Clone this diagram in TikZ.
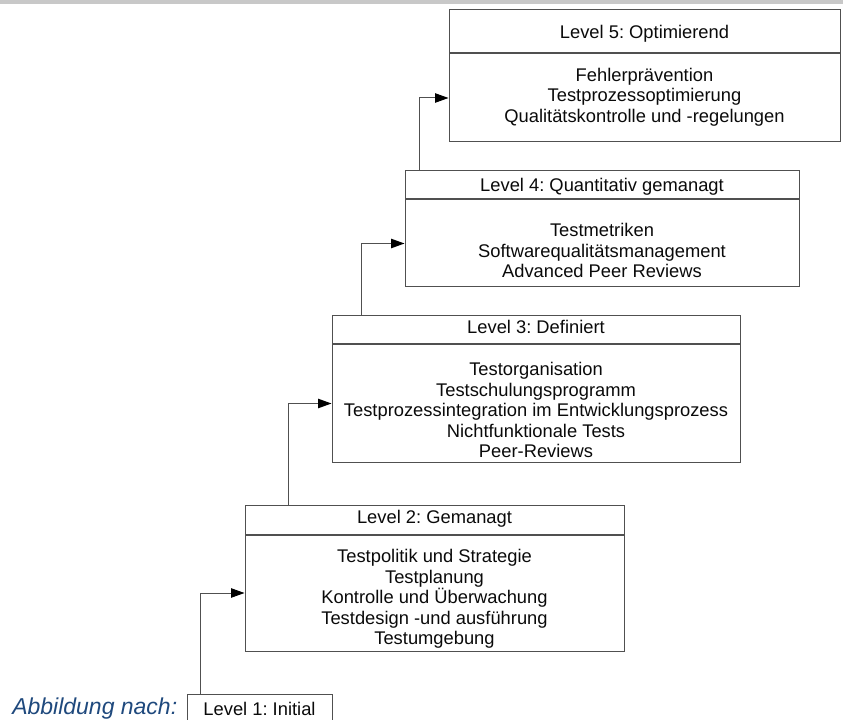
\documentclass[tikz,border=0pt]{standalone}
\usepackage{fontspec}
\setmainfont{Liberation Sans}
\frenchspacing
\usepackage{tikz}
\usetikzlibrary{arrows.meta, positioning}
\definecolor{framegray}{RGB}{80,80,80}
\definecolor{textdark}{RGB}{10,10,10}
\definecolor{captionblue}{RGB}{31,73,125}
\definecolor{bargray}{RGB}{200,200,200}
\tikzset{
    levelhead/.style={rectangle, draw=framegray, line width=0.75pt, inner sep=0pt, text centered, text height=10pt, text depth=0pt, text=textdark, font=\fontsize{13.75pt}{15.4pt}\selectfont},
    levelbody/.style={rectangle, draw=framegray, line width=0.75pt, inner sep=0pt},
    leveltext/.style={align=center, inner sep=0pt, text=textdark, font=\fontsize{13.75pt}{15.4pt}\selectfont},
    flow/.style={-{Triangle[length=10pt, width=7pt, color=black]}, line width=0.75pt, draw=framegray}
}

\begin{document}
\begin{tikzpicture}[x=0.75pt, y=-0.75pt, node distance=0pt]
    \clip (0,0) rectangle (843,720);
    % Top bar
    \fill[bargray] (0,0) rectangle (843,4.5);

    % Level 5
    \node[levelhead, minimum width=293.25pt, minimum height=32.25pt, text depth=-7pt] (l5head) at (644.5,31.5) {Level 5: Optimierend};
    \node[levelbody, minimum width=293.25pt, minimum height=66pt, below=of l5head] (l5body) {};
    \node[leveltext, yshift=0.75pt] (l5text) at (l5body.center) {Fehlerprävention\\Testprozessoptimierung\\Qualitätskontrolle und -regelungen};

    % Level 4
    \node[levelhead, minimum width=295.5pt, minimum height=21pt, text depth=-1.5pt] (l4head) at (602,185) {Level 4: Quantitativ gemanagt};
    \node[levelbody, minimum width=295.5pt, minimum height=65.25pt, below=of l4head] (l4body) {};
    \node[leveltext, yshift=-5.25pt] (l4text) at (l4body.center) {Testmetriken\\Softwarequalitätsmanagement\\Advanced Peer Reviews};

    % Level 3
    \node[levelhead, minimum width=306pt, minimum height=21pt, text depth=4pt] (l3head) at (536,330) {Level 3: Definiert};
    \node[levelbody, minimum width=306pt, minimum height=87.75pt, below=of l3head] (l3body) {};
    \node[leveltext, yshift=-4.9pt] (l3text) at (l3body.center) {Testorganisation\\Testschulungsprogramm\\Testprozessintegration im Entwicklungsprozess\\Nichtfunktionale Tests\\Peer-Reviews};

    % Level 2
    \node[levelhead, minimum width=284.25pt, minimum height=21.75pt, text depth=4pt] (l2head) at (434.5,519.5) {Level 2: Gemanagt};
    \node[levelbody, minimum width=284.25pt, minimum height=87pt, below=of l2head] (l2body) {};
    \node[leveltext, yshift=-4.5pt] (l2text) at (l2body.center) {Testpolitik und Strategie\\Testplanung\\Kontrolle und Überwachung\\Testdesign -und ausführung\\Testumgebung};

    % Level 1
    \node[levelhead, minimum width=108.75pt, minimum height=22.5pt] (l1head) at (259.5,709) {Level 1: Initial};
    \node[anchor=base west, inner sep=0pt, text=captionblue, font=\fontsize{17.25pt}{20pt}\selectfont\itshape] (caption) at (12,714) {Abbildung nach:};

    % Steps up
    \draw[flow] ([xshift=10.5pt]l1head.north west) |- (l2body.west);
    \draw[flow] ([xshift=33pt]l2head.north west) |- (l3body.west);
    \draw[flow] ([xshift=22.5pt]l3head.north west) |- (l4body.west);
    \draw[flow] ([xshift=11.25pt]l4head.north west) |- (l5body.west);
\end{tikzpicture}
\end{document}
